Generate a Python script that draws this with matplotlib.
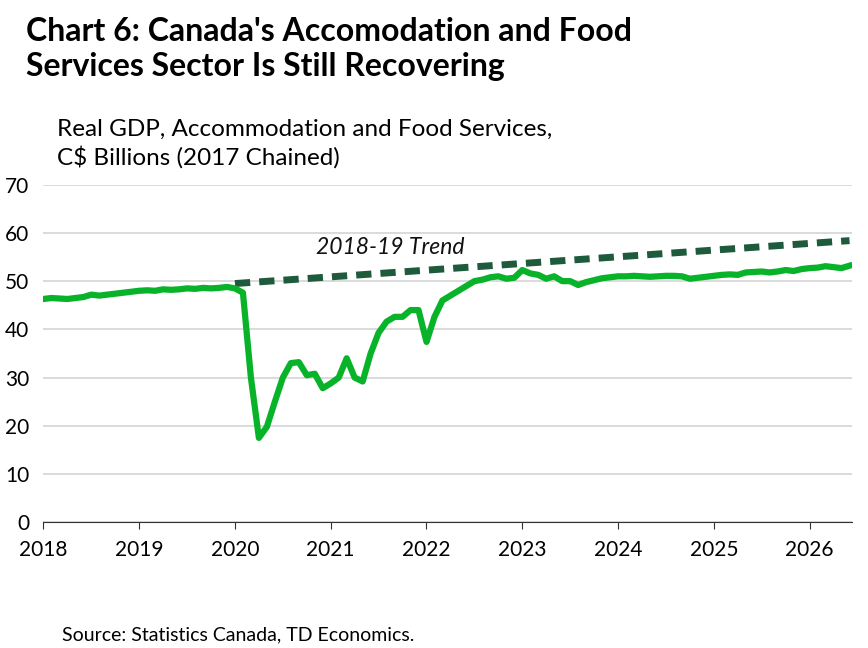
import matplotlib
matplotlib.use('Agg')
import matplotlib.pyplot as plt
import numpy as np

plt.rcParams['font.family'] = ['Lato', 'DejaVu Sans']

# monthly real GDP, accommodation & food services, Jan 2018 to Feb 2026
gdp = [46.3, 46.5, 46.4, 46.3, 46.5, 46.7, 47.2, 47.0, 47.2, 47.4, 47.6, 47.8,
       48.0, 48.1, 48.0, 48.3, 48.2, 48.3, 48.5, 48.4, 48.6, 48.5, 48.6, 48.8,
       48.5, 47.6, 30.0, 17.5, 19.8, 25.0, 30.0, 33.0, 33.2, 30.5, 30.8, 27.8,
       28.8, 30.0, 34.0, 30.0, 29.2, 35.0, 39.3, 41.6, 42.6, 42.6, 44.0, 44.0,
       37.4, 42.6, 46.0, 47.0, 48.0, 49.0, 50.0, 50.3, 50.8, 51.0, 50.5, 50.7,
       52.3, 51.6, 51.3, 50.5, 51.0, 50.0, 50.0, 49.2, 49.8, 50.2, 50.6, 50.8,
       51.0, 51.0, 51.1, 51.0, 50.9, 51.0, 51.1, 51.1, 51.0, 50.5, 50.7, 50.9,
       51.1, 51.3, 51.4, 51.3, 51.8, 51.9, 52.0, 51.8, 52.0, 52.3, 52.1, 52.5,
       52.7, 52.8, 53.1, 52.9, 52.7, 53.2]
dates = 2018 + np.arange(len(gdp)) / 12

trend_x = [2020.0, dates[-1]]
trend_y = [49.5, 58.4]

years = list(range(2018, 2027))
yticks = list(range(0, 71, 10))

fig = plt.figure(figsize=(8.68, 6.48), dpi=100)
ax = fig.add_axes([0.05, 0.194, 0.932, 0.521])

ax.plot(trend_x, trend_y, color='#1e5a3c', lw=5, ls=(0, (2.2, 1.3)), solid_capstyle='butt')
ax.plot(dates, gdp, color='#08b32a', lw=4.5, solid_joinstyle='round')
ax.text(2020.85, 55.6, '2018-19 Trend', fontsize=16.5, style='italic', color='#111111')

ax.set_ylim(0, 70)
ax.set_xlim(2018, dates[-1] + 0.03)
ax.set_yticks(yticks)
ax.set_xticks(years)
ax.tick_params(axis='y', length=0, labelsize=15, pad=10)
ax.tick_params(axis='x', length=5, color='#333333', labelsize=15, pad=8)
ax.grid(axis='y', color='#d4d4d4', lw=1.2)
ax.set_axisbelow(True)
for s in ['left', 'right', 'top']:
    ax.spines[s].set_visible(False)
ax.spines['bottom'].set_color('#333333')

fig.text(0.03, 0.875, "Chart 6: Canada's Accomodation and Food\nServices Sector Is Still Recovering",
         fontsize=23, fontweight='bold', linespacing=1.25, va='bottom')
fig.text(0.066, 0.74, 'Real GDP, Accommodation and Food Services,\nC$ Billions (2017 Chained)',
         fontsize=17.5, linespacing=1.3, va='bottom')
fig.text(0.072, 0.012, 'Source: Statistics Canada, TD Economics.', fontsize=14)

fig.savefig('out.png', dpi=100)
